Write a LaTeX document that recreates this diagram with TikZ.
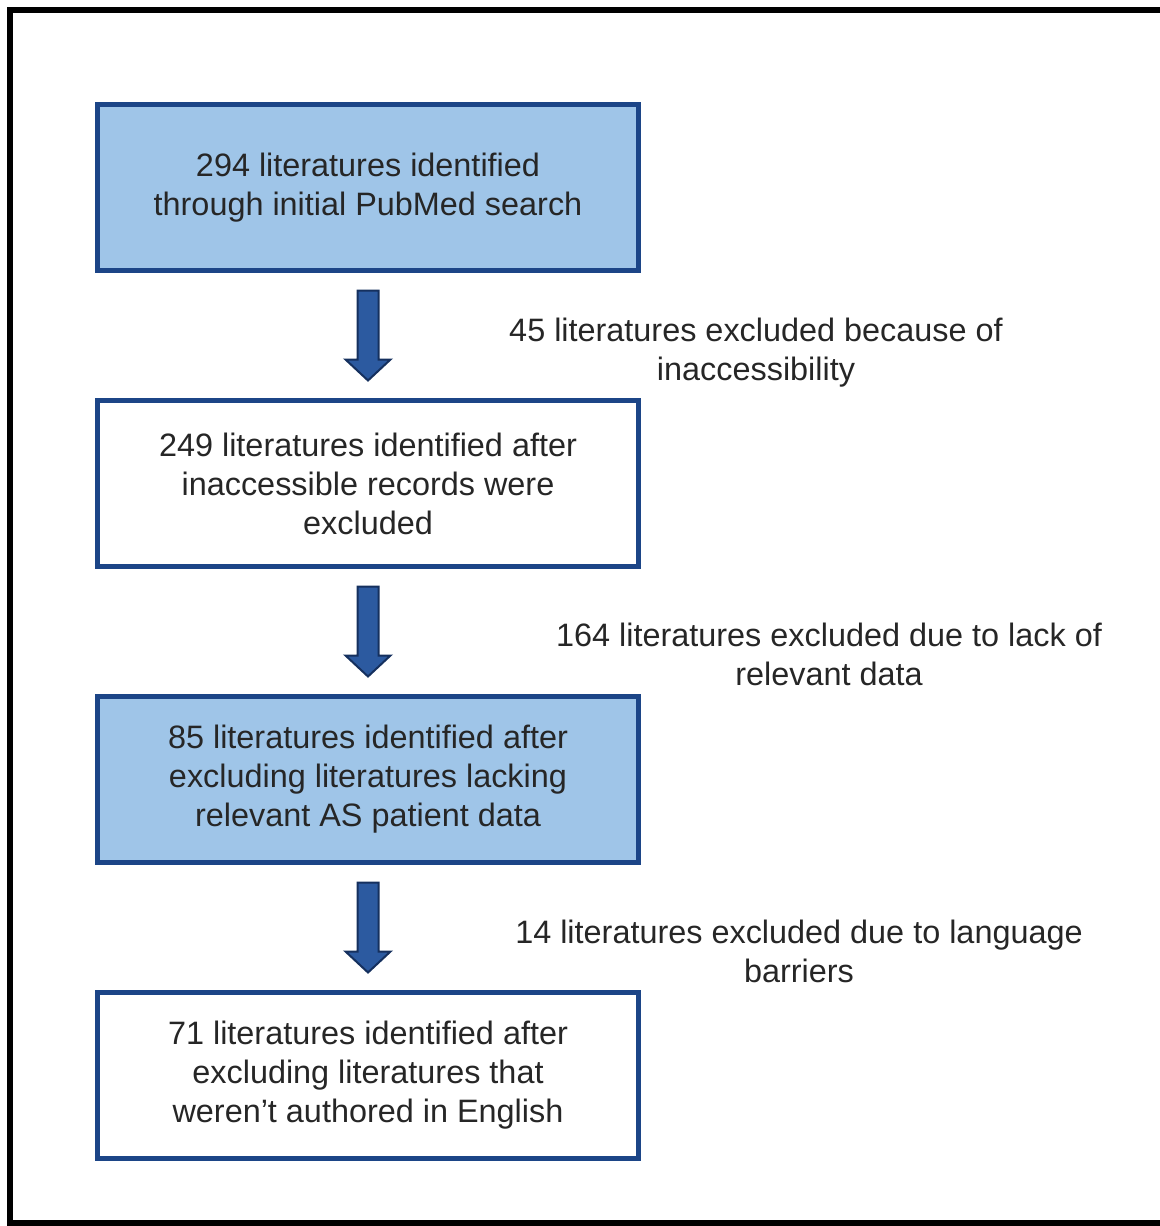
\documentclass[tikz,border=0pt]{standalone}
\usepackage{fontspec}
\setmainfont{Liberation Sans}
\usetikzlibrary{calc}
\usetikzlibrary{positioning}

\definecolor{boxblue}{HTML}{9FC5E8}
\definecolor{edgeblue}{HTML}{1C4587}
\definecolor{arrowblue}{HTML}{2C5AA0}
\definecolor{arrowedge}{HTML}{15305E}

\begin{document}
\begin{tikzpicture}[x=0.5pt, y=-0.5pt,
        every node/.style={font=\fontsize{16.2}{19.5}\selectfont, align=center, text=black!85},
        stage/.style={draw=edgeblue, line width=2.5pt, minimum width=270.5pt, minimum height=83pt, inner sep=0pt},
        shaded/.style={stage, fill=boxblue},
        down arrow/.pic={
            \draw[fill=arrowblue, draw=arrowedge, line width=1pt, line join=miter]
                (-10.5,-45) -- (10.5,-45) -- (10.5,24) -- (22.5,24) -- (0,45)
                -- (-22.5,24) -- (-10.5,24) -- cycle;
        }]
        \clip (0,0) rectangle (1160,1226);
        \draw[line width=3pt] (10,10) rectangle (1185,1223);

        \node[shaded] (search) at (368,187.5) {294 literatures identified\\through initial PubMed search};
        \node[stage, below=62.5pt of search] (access) {249 literatures identified after\\inaccessible records were\\excluded};
        \node[shaded, below=62.5pt of access] (relevant) {85 literatures identified after\\excluding literatures lacking\\relevant AS patient data};
        \node[stage, below=62.5pt of relevant] (english) {71 literatures identified after\\excluding literatures that\\weren’t authored in English};

        \coordinate (gap1) at ($(search.south)!0.5!(access.north)$);
        \coordinate (gap2) at ($(access.south)!0.5!(relevant.north)$);
        \coordinate (gap3) at ($(relevant.south)!0.5!(english.north)$);
        \pic at (gap1) {down arrow};
        \pic at (gap2) {down arrow};
        \pic at (gap3) {down arrow};

        \node (note1) at (756,353) {45 literatures excluded because of\\inaccessibility};
        \node (note2) at (829,654) {164 literatures excluded due to lack of\\relevant data};
        \node (note3) at (799,951) {14 literatures excluded due to language\\barriers};
    \end{tikzpicture}
\end{document}
